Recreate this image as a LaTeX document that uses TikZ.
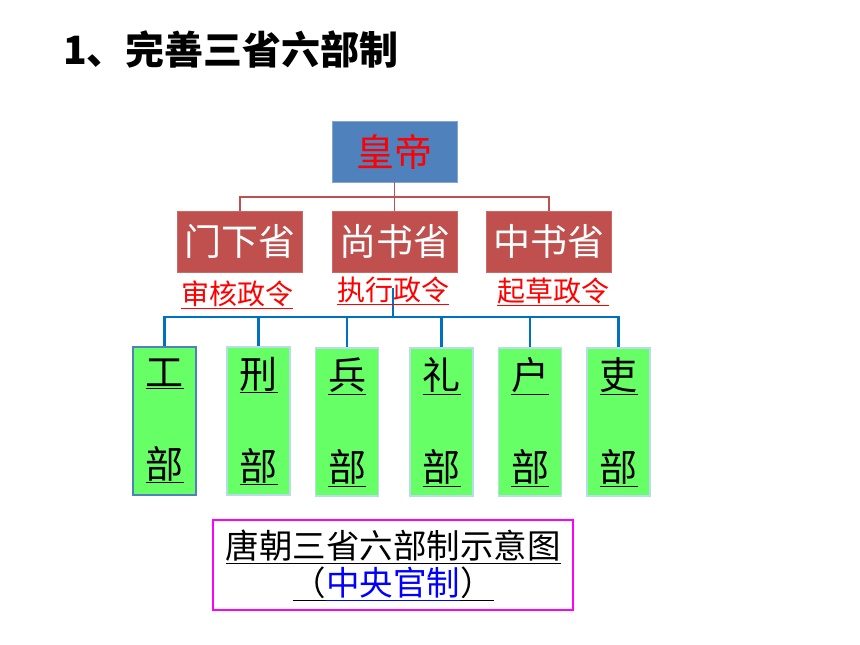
\documentclass[tikz,border=0pt]{standalone}
\usepackage{fontspec}
\setmainfont{Noto Sans CJK SC}
\usetikzlibrary{positioning}
\definecolor{empblue}{HTML}{4F81BD}
\definecolor{offred}{HTML}{C0504D}
\definecolor{bugreen}{HTML}{66FF66}
\definecolor{buedge}{HTML}{B7DEE8}
\definecolor{busblue}{HTML}{0070C0}
\definecolor{capmag}{HTML}{FF00FF}
\newcommand\ulx[1]{\underline{#1\vphantom{（}}}
\tikzset{
  every node/.append style={inner sep=0pt},
  emperor/.style={rectangle,draw=empblue!70!white,fill=empblue,text=red,
    minimum width=125pt,minimum height=61pt,font=\fontsize{38}{40}\selectfont},
  office/.style={rectangle,draw=offred!85!white,fill=offred,text=white,
    minimum width=125pt,minimum height=61pt,node distance=29pt,
    font=\fontsize{37}{40}\selectfont},
  duty/.style={text=red,anchor=base,font=\fontsize{28}{30}\selectfont},
  bureau/.style={rectangle,draw=buedge,line width=1.5pt,fill=bugreen,
    minimum width=63pt,minimum height=148pt,align=center,
    font=\fontsize{38}{92}\selectfont},
  tie/.style={offred,line width=1.6pt},
  bus/.style={busblue,line width=2.5pt},
  caption/.style={rectangle,draw=capmag,line width=2.5pt,minimum width=360pt,
    minimum height=90pt,align=center,font=\fontsize{33.5}{37}\selectfont}
}
\begin{document}
\begin{tikzpicture}[x=1pt,y=-1pt]
  \fill[white] (0,0) rectangle (860,645);
  \useasboundingbox (0,0) rectangle (860,645);
  % title
  \node (title) at (63,49) [anchor=west,font=\fontsize{39}{42}\selectfont\bfseries]
    {1、完善三省六部制};
  % emperor and the three departments
  \node (emp) at (394.5,151.5) [emperor] {皇帝};
  \node (ss) [office,below=29pt of emp] {尚书省};
  \node (mx) [office,left=29pt of ss] {门下省};
  \node (zs) [office,right=29pt of ss] {中书省};
  \coordinate (tiejoint) at (394.5,197);
  \draw[tie] (emp) -- (tiejoint) -- (ss);
  \draw[tie] (mx.north) |- (tiejoint) -| (zs.north);
  % six ministries
  \node (gong) at (164.5,421) [bureau,draw=empblue] {\underline{工}\\\underline{部}};
  \node (xing) at (258.5,421) [bureau] {\underline{刑}\\\underline{部}};
  \node (bing) at (347,422) [bureau] {\underline{兵}\\\underline{部}};
  \node (lib) at (441.5,422) [bureau] {\underline{礼}\\\underline{部}};
  \node (hu) at (530,422) [bureau] {\underline{户}\\\underline{部}};
  \node (li) at (618.5,422) [bureau] {\underline{吏}\\\underline{部}};
  \coordinate (bustop) at (393,288);
  \coordinate (busjoint) at (393,317);
  \draw[bus] (bustop) -- (busjoint);
  \draw[bus] (gong.north) |- (busjoint) -| (li.north);
  \draw[bus] (xing.north) -- (xing.north |- busjoint)
    (bing.north) -- (bing.north |- busjoint)
    (lib.north) -- (lib.north |- busjoint)
    (hu.north) -- (hu.north |- busjoint);
  % duties
  \node (shenhe) at (237,304) [duty] {\underline{审核政令}};
  \node (zhixing) at (393,300) [duty] {\underline{执行政令}};
  \node (qicao) at (553,301) [duty] {\underline{起草政令}};
  % caption
  \node (cap) at (393,565) [caption]
    {\ulx{唐朝三省六部制示意图}\\
     \ulx{（}\textcolor{blue}{\ulx{中央官制}}\ulx{）}};
\end{tikzpicture}
\end{document}
